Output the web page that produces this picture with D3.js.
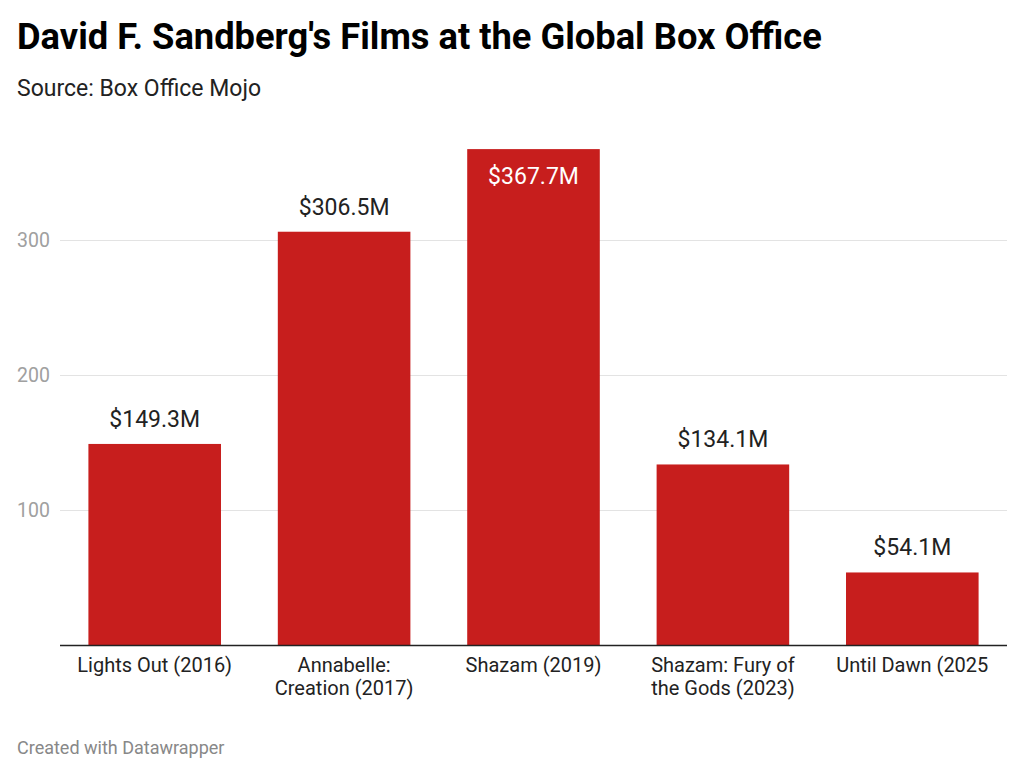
<!DOCTYPE html>
<html>
<head>
<meta charset="utf-8">
<script src="https://cdn.jsdelivr.net/npm/d3@7"></script>
<style>
  body { margin: 0; background: #fff; font-family: Roboto, "Noto Sans", sans-serif; }
  svg text { font-family: Roboto, "Noto Sans", sans-serif; }
</style>
</head>
<body>
<div id="chart"></div>
<script>
// films and worldwide gross in $M
const films = ["Lights Out (2016)", "Annabelle: Creation (2017)", "Shazam (2019)",
  "Shazam: Fury of the Gods (2023)", "Until Dawn (2025"];
const gross = [149.3, 306.5, 367.7, 134.1, 54.1];
const yTicks = [100, 200, 300];

const width = 1024, height = 776;
const barColor = "#c71e1d";

var svg = d3.select("#chart")
  .append("svg")
    .attr("width", width)
    .attr("height", height);

// title block
svg.append("text")
  .text("David F. Sandberg's Films at the Global Box Office")
  .attr("x", 17)
  .attr("y", 49)
  .attr("font-size", "36.3px")
  .attr("font-weight", 700)
  .attr("fill", "#000");

svg.append("text")
  .text("Source: Box Office Mojo")
  .attr("x", 17)
  .attr("y", 96)
  .attr("font-size", "23px")
  .attr("fill", "#222");

svg.append("text")
  .text("Created with Datawrapper")
  .attr("x", 17)
  .attr("y", 754)
  .attr("font-size", "18px")
  .attr("fill", "#888");

// scales
var x = d3.scaleBand()
  .domain(films)
  .range([60, 1007])
  .paddingInner(0.3)
  .paddingOuter(0.15);

var y = d3.scaleLinear()
  .domain([0, 400])
  .range([645.5, 105.5]);

// gridlines
svg.append("g")
  .selectAll("line")
  .data(yTicks)
  .join("line")
    .attr("x1", 60)
    .attr("x2", 1007)
    .attr("y1", d => y(d))
    .attr("y2", d => y(d))
    .attr("stroke", "#e3e3e3")
    .attr("stroke-width", 1);

svg.append("g")
  .selectAll("text")
  .data(yTicks)
  .join("text")
    .text(d => d)
    .attr("x", 17)
    .attr("y", d => y(d))
    .attr("dy", "0.35em")
    .attr("font-size", "19.5px")
    .attr("fill", "#a0a0a0");

// bars
var data = films.map((f, i) => ({film: f, value: gross[i]}));

svg.append("g")
  .selectAll("rect")
  .data(data)
  .join("rect")
    .attr("x", d => x(d.film))
    .attr("y", d => y(d.value))
    .attr("width", x.bandwidth())
    .attr("height", d => y(0) - y(d.value))
    .attr("fill", barColor);

// baseline
svg.append("line")
  .attr("x1", 60)
  .attr("x2", 1007)
  .attr("y1", y(0))
  .attr("y2", y(0))
  .attr("stroke", "#222")
  .attr("stroke-width", 1.5);

// value labels: inside the bar when it reaches the top
const maxVal = d3.max(gross);
svg.append("g")
  .attr("text-anchor", "middle")
  .selectAll("text")
  .data(data)
  .join("text")
    .text(d => "$" + d.value.toFixed(1) + "M")
    .attr("x", d => x(d.film) + x.bandwidth() / 2)
    .attr("y", d => d.value === maxVal ? y(d.value) + 35 : y(d.value) - 17)
    .attr("font-size", "23px")
    .attr("fill", d => d.value === maxVal ? "#fff" : "#222");

// category labels, wrapped to the band step
var cat = svg.append("g")
  .attr("text-anchor", "middle")
  .selectAll("text")
  .data(films)
  .join("text")
    .attr("x", d => x(d) + x.bandwidth() / 2)
    .attr("y", 672)
    .attr("font-size", "20px")
    .attr("fill", "#222");

cat.each(function(d) {
  var el = d3.select(this);
  var words = d.split(" ");
  var line = [];
  var tspan = el.append("tspan").attr("x", el.attr("x")).attr("dy", 0);
  words.forEach(w => {
    line.push(w);
    tspan.text(line.join(" "));
    if (tspan.node().getComputedTextLength() > 160 && line.length > 1) {
      line.pop();
      tspan.text(line.join(" "));
      line = [w];
      tspan = el.append("tspan").attr("x", el.attr("x")).attr("dy", 23).text(w);
    }
  });
});
</script>
</body>
</html>
